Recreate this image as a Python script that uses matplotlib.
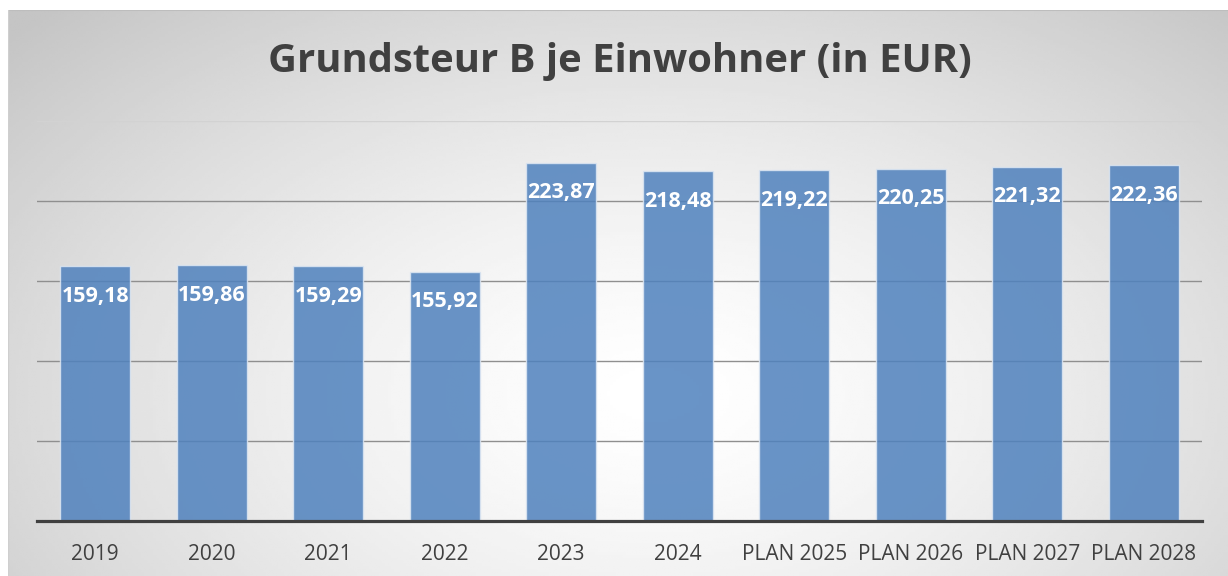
import numpy as np
import matplotlib.pyplot as plt

# Werte aus dem Diagramm
categories = ['2019', '2020', '2021', '2022', '2023', '2024',
              'PLAN 2025', 'PLAN 2026', 'PLAN 2027', 'PLAN 2028']
values = [159.18, 159.86, 159.29, 155.92, 223.87, 218.48,
          219.22, 220.25, 221.32, 222.36]
gridlines = [50, 100, 150, 200, 250]

plt.rcParams['font.family'] = ['Open Sans', 'DejaVu Sans']

W, H = 1228, 576
fig = plt.figure(figsize=(W / 100, H / 100), dpi=100, facecolor='white')

# Hintergrund mit radialem Verlauf
bg = fig.add_axes([8 / W, 0, 1 - 8 / W, 1 - 10 / H])
gx, gy = np.meshgrid(np.linspace(0, 1, 400), np.linspace(0, 1, 200))
r = np.sqrt(((gx - 0.53) / 0.72) ** 2 + ((gy - 0.68) / 0.95) ** 2)
shade = 1 - 0.23 * np.clip(r, 0, 1) ** 1.4
bg.imshow(shade, cmap='gray', vmin=0, vmax=1, aspect='auto',
          extent=[0, 1, 0, 1], origin='upper')
bg.set_xlim(0, 1)
bg.set_ylim(0, 1)
bg.axis('off')
bg.axhline(1, color='#bdbdbd', lw=1.5)
bg.axvline(0, color='#cfcfcf', lw=1)

ax = fig.add_axes([37 / W, 55 / H, (1202 - 37) / W, 400 / H])
ax.patch.set_alpha(0)
x = np.arange(len(categories))

for g in gridlines:
    c = '#d2d2d2' if g == 250 else '#8f8f8f'
    ax.axhline(g, color=c, lw=1, zorder=1)

bars = ax.bar(x, values, width=0.6, color='#4f81bd', alpha=0.85,
              edgecolor='#dce6f2', linewidth=1, zorder=2)

for xi, v in zip(x, values):
    ax.annotate(f'{v:.2f}'.replace('.', ','), (xi, v), xytext=(0, -25.5),
                textcoords='offset points', ha='center', va='baseline',
                color='white', fontsize=15.5, fontweight='bold', zorder=3)

ax.set_xlim(-0.5, len(categories) - 0.5)
ax.set_ylim(0, 250)
ax.set_xticks(x)
ax.set_xticklabels(categories, fontsize=15, color='#404040')
ax.tick_params(axis='x', length=0, pad=16.5)
ax.set_yticks([])
for s in ['top', 'right', 'left']:
    ax.spines[s].set_visible(False)
ax.spines['bottom'].set_color('#404040')
ax.spines['bottom'].set_linewidth(2.3)
ax.spines['bottom'].set_zorder(4)

fig.text(620 / W, 1 - 72 / H, 'Grundsteur B je Einwohner (in EUR)',
         ha='center', va='baseline', fontsize=28.8, fontweight='bold',
         color='#404040')

fig.savefig('out.png', dpi=100)
